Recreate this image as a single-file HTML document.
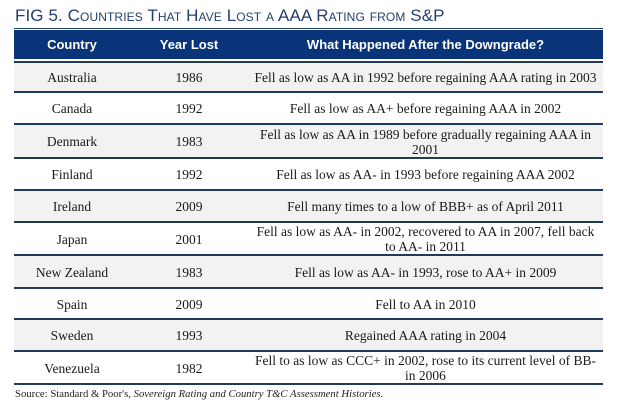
<!DOCTYPE html>
<html><head><meta charset="utf-8"><style>
html,body{margin:0;padding:0;background:#fff;}
body{width:624px;height:405px;position:relative;overflow:hidden;font-family:"Liberation Serif",serif;color:#1a1a1a;}
.title{position:absolute;left:15px;top:6px;font-family:"Liberation Sans",sans-serif;font-size:17px;color:#233f6e;font-variant:small-caps;white-space:nowrap;letter-spacing:0.1px;}
.topline{position:absolute;left:14px;width:589px;top:28px;height:1px;background:#1f3a63;}
.hdr{position:absolute;left:14px;width:589px;top:30px;height:29px;background:#0a347a;}
.hc{position:absolute;top:30px;height:29px;line-height:29px;text-align:center;color:#fff;font-family:"Liberation Sans",sans-serif;font-weight:bold;font-size:13px;}
.row{position:absolute;left:14px;width:589px;}
.line{position:absolute;left:14px;width:589px;height:2px;background:#1f3a5c;}
.c{position:absolute;display:flex;align-items:center;justify-content:center;text-align:center;font-size:13.5px;line-height:15px;}
.src{position:absolute;left:15px;top:388px;font-size:10.7px;color:#222;white-space:nowrap;}
</style></head><body>
<div class="title">FIG 5. Countries That Have Lost a AAA Rating from S&amp;P</div>
<div class="topline"></div>
<div class="hdr"></div>
<div class="hc" style="left:14px;width:116px;">Country</div>
<div class="hc" style="left:130px;width:118px;">Year Lost</div>
<div class="hc" style="left:248px;width:355px;">What Happened After the Downgrade?</div>

<div class="row" style="top:62px;height:30px;background:#f2f2f2;"></div>
<div class="row" style="top:124px;height:34px;background:#f2f2f2;"></div>
<div class="row" style="top:190px;height:32px;background:#f2f2f2;"></div>
<div class="row" style="top:255px;height:33px;background:#f2f2f2;"></div>
<div class="row" style="top:319px;height:32px;background:#f2f2f2;"></div>

<div class="line" style="top:61px;"></div>
<div class="line" style="top:91px;"></div>
<div class="line" style="top:123px;"></div>
<div class="line" style="top:157px;"></div>
<div class="line" style="top:189px;"></div>
<div class="line" style="top:221px;"></div>
<div class="line" style="top:254px;"></div>
<div class="line" style="top:287px;"></div>
<div class="line" style="top:318px;"></div>
<div class="line" style="top:350px;"></div>
<div class="line" style="top:383px;"></div>

<div class="c" style="left:14px;width:116px;top:62px;height:30px;">Australia</div>
<div class="c" style="left:130px;width:118px;top:62px;height:30px;">1986</div>
<div class="c" style="left:248px;width:355px;top:62px;height:30px;">Fell as low as AA in 1992 before regaining AAA rating in 2003</div>

<div class="c" style="left:14px;width:116px;top:93px;height:31px;">Canada</div>
<div class="c" style="left:130px;width:118px;top:93px;height:31px;">1992</div>
<div class="c" style="left:248px;width:355px;top:93px;height:31px;">Fell as low as AA+ before regaining AAA in 2002</div>

<div class="c" style="left:14px;width:116px;top:125px;height:33px;">Denmark</div>
<div class="c" style="left:130px;width:118px;top:125px;height:33px;">1983</div>
<div class="c" style="left:248px;width:355px;top:125px;height:33px;">Fell as low as AA in 1989 before gradually regaining AAA in<br>2001</div>

<div class="c" style="left:14px;width:116px;top:159px;height:31px;">Finland</div>
<div class="c" style="left:130px;width:118px;top:159px;height:31px;">1992</div>
<div class="c" style="left:248px;width:355px;top:159px;height:31px;">Fell as low as AA- in 1993 before regaining AAA 2002</div>

<div class="c" style="left:14px;width:116px;top:191px;height:31px;">Ireland</div>
<div class="c" style="left:130px;width:118px;top:191px;height:31px;">2009</div>
<div class="c" style="left:248px;width:355px;top:191px;height:31px;">Fell many times to a low of BBB+ as of April 2011</div>

<div class="c" style="left:14px;width:116px;top:223px;height:32px;">Japan</div>
<div class="c" style="left:130px;width:118px;top:223px;height:32px;">2001</div>
<div class="c" style="left:248px;width:355px;top:223px;height:32px;">Fell as low as AA- in 2002, recovered to AA in 2007, fell back<br>to AA- in 2011</div>

<div class="c" style="left:14px;width:116px;top:256px;height:32px;">New Zealand</div>
<div class="c" style="left:130px;width:118px;top:256px;height:32px;">1983</div>
<div class="c" style="left:248px;width:355px;top:256px;height:32px;">Fell as low as AA- in 1993, rose to AA+ in 2009</div>

<div class="c" style="left:14px;width:116px;top:289px;height:30px;">Spain</div>
<div class="c" style="left:130px;width:118px;top:289px;height:30px;">2009</div>
<div class="c" style="left:248px;width:355px;top:289px;height:30px;">Fell to AA in 2010</div>

<div class="c" style="left:14px;width:116px;top:320px;height:31px;">Sweden</div>
<div class="c" style="left:130px;width:118px;top:320px;height:31px;">1993</div>
<div class="c" style="left:248px;width:355px;top:320px;height:31px;">Regained AAA rating in 2004</div>

<div class="c" style="left:14px;width:116px;top:352px;height:32px;">Venezuela</div>
<div class="c" style="left:130px;width:118px;top:352px;height:32px;">1982</div>
<div class="c" style="left:248px;width:355px;top:352px;height:32px;">Fell to as low as CCC+ in 2002, rose to its current level of BB-<br>in 2006</div>

<div class="src">Source: Standard &amp; Poor's, <i>Sovereign Rating and Country T&amp;C Assessment Histories.</i></div>
</body></html>
